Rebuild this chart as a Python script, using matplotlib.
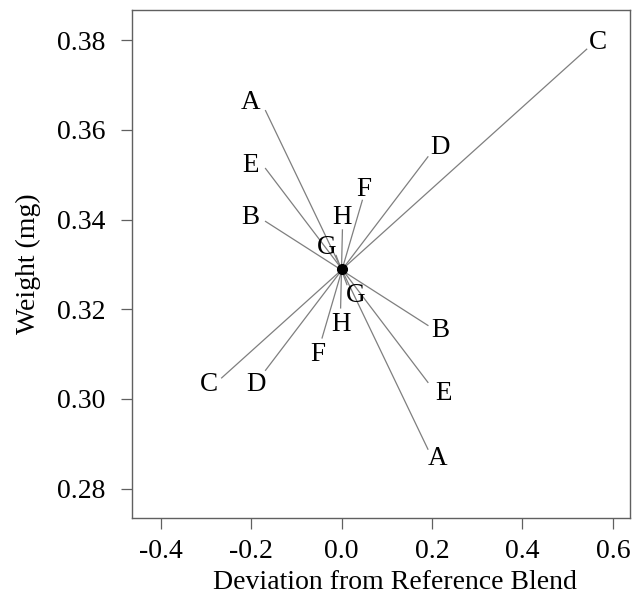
import matplotlib
matplotlib.use('Agg')
import matplotlib.pyplot as plt
import numpy as np

# Cox-type response trace: each component runs from its low end to its high end
# through the reference blend
components = ['A', 'B', 'C', 'D', 'E', 'F', 'G', 'H']
x_start = [-0.168, -0.168, -0.265, -0.168, -0.168, -0.043, -0.012, -0.002]
y_start = [0.3643, 0.3396, 0.3047, 0.3064, 0.3514, 0.3136, 0.3320, 0.3203]
x_end = [0.191, 0.191, 0.542, 0.191, 0.191, 0.046, 0.012, 0.002]
y_end = [0.2888, 0.3164, 0.3780, 0.3540, 0.3037, 0.3443, 0.3255, 0.3377]
ref_x, ref_y = 0.0, 0.329

# label offsets (points) for the start and end of each trace
off_start = [(-11, 6), (-11, 3), (-9, -5), (-7, -10), (-11, 2), (-3, -12), (-7, 6), (0, -12)]
off_end = [(7, -7), (9, -4), (8, 5), (9, 7), (11, -8), (1, 8), (6, -8), (0, 9)]

plt.rcParams['font.family'] = ['Liberation Serif', 'DejaVu Serif']
plt.rcParams['axes.unicode_minus'] = False

fig = plt.figure(figsize=(6.32, 6.0), dpi=100)
ax = fig.add_axes([0.209, 0.137, 0.788, 0.846])

for i, c in enumerate(components):
    ax.plot([x_start[i], x_end[i]], [y_start[i], y_end[i]], color='#7f7f7f', lw=0.9)
    ax.annotate(c, (x_start[i], y_start[i]), xytext=off_start[i], textcoords='offset points',
                ha='center', va='center', fontsize=19.5)
    ax.annotate(c, (x_end[i], y_end[i]), xytext=off_end[i], textcoords='offset points',
                ha='center', va='center', fontsize=19.5)

ax.plot(ref_x, ref_y, 'o', color='black', ms=7, zorder=5)

ax.set_xlim(-0.463, 0.638)
ax.set_ylim(0.2735, 0.3867)
ax.set_xticks(np.arange(-0.4, 0.61, 0.2))
ax.set_yticks(np.arange(0.28, 0.381, 0.02))
ax.set_xticklabels(['%.1f' % v for v in np.arange(-0.4, 0.61, 0.2)])
ax.set_yticklabels(['%.2f' % v for v in np.arange(0.28, 0.381, 0.02)])
ax.tick_params(labelsize=20, length=8, width=0.9, color='#606060')
ax.tick_params(axis='x', pad=7)
ax.tick_params(axis='y', pad=11)
for s in ax.spines.values():
    s.set_color('#606060')
    s.set_linewidth(1.0)

ax.set_xlabel('Deviation from Reference Blend', fontsize=20)
ax.set_ylabel('Weight (mg)', fontsize=20)
ax.xaxis.set_label_coords(0.528, -0.102)
ax.yaxis.set_label_coords(-0.183, 0.5)

plt.savefig('out.png', dpi=100)
